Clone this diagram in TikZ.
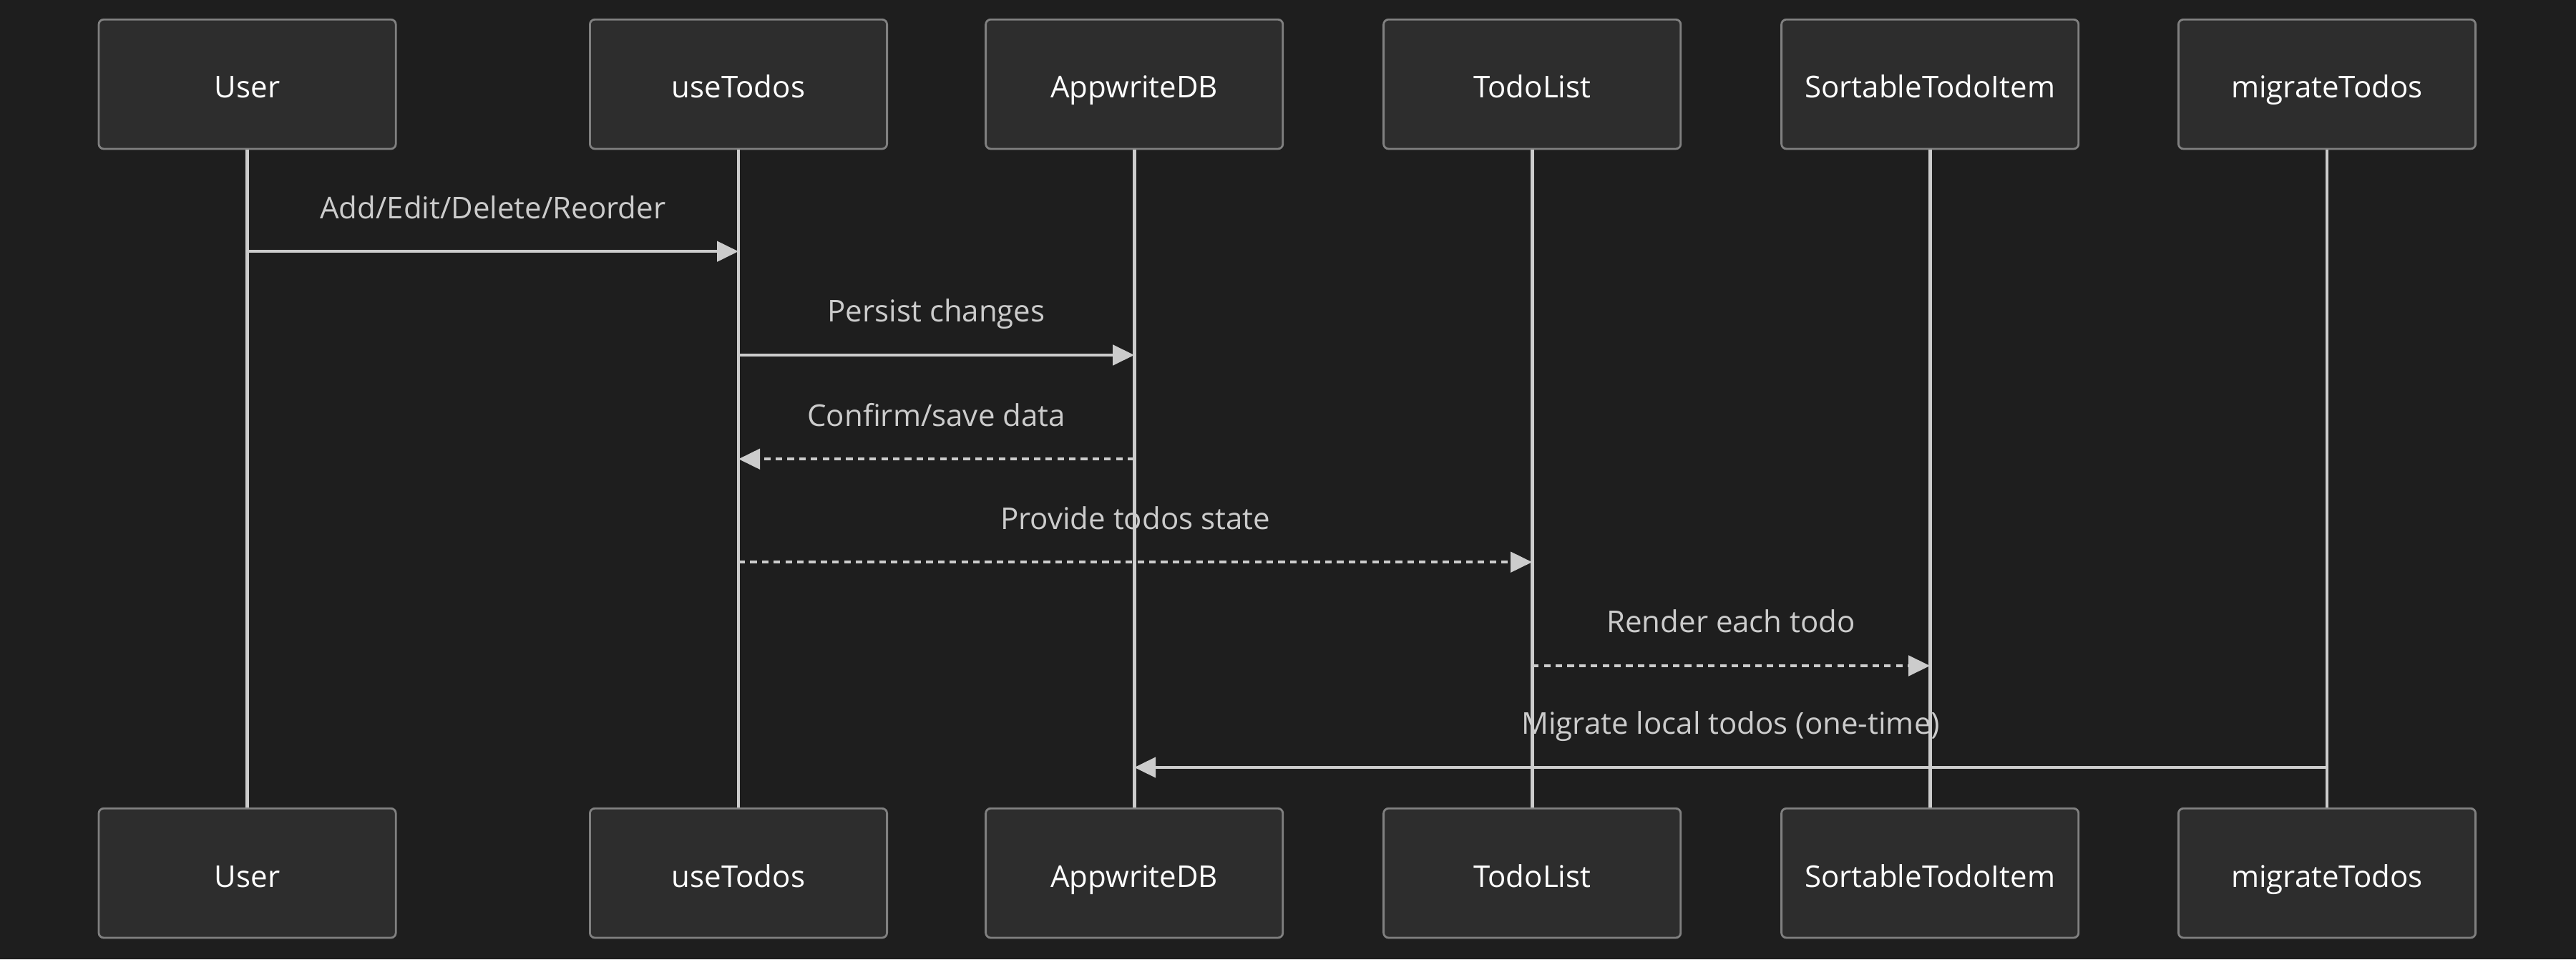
\documentclass[tikz,border=0pt]{standalone}
\usepackage{fontspec}
\setmainfont{Open Sans}
\usetikzlibrary{arrows.meta,positioning}
\definecolor{bgdark}{HTML}{1E1E1E}
\definecolor{actorfill}{HTML}{2D2D2D}
\definecolor{actorline}{HTML}{808080}
\definecolor{msgcolor}{HTML}{CCCCCC}

\begin{document}
\begin{tikzpicture}[x=1pt, y=1pt,
    actor/.style={draw=actorline, line width=0.7pt, fill=actorfill, rounded corners=1.75pt,
      minimum width=103.8pt, minimum height=45.2pt, text height=9.7pt, text depth=0pt,
      text=white, font=\fontsize{10.5pt}{12.6pt}\selectfont},
    lifeline/.style={draw=msgcolor, line width=1.2pt},
    msg/.style={draw=msgcolor, line width=1.15pt, -{Triangle[length=7.5pt, width=7pt]}},
    reply/.style={msg, dash pattern=on 2.3pt off 1.8pt},
    msglabel/.style={midway, anchor=base, yshift=11.5pt, text=msgcolor, font=\fontsize{10.5pt}{12.6pt}\selectfont}]
  \fill[bgdark] (0,0) rectangle (900,335);
  \useasboundingbox (0,0) rectangle (900,335);
  % participants, top and bottom, with one point per message row
  \foreach \name/\x in {User/86.4, useTodos/258, AppwriteDB/396.3, TodoList/535.3,
      SortableTodoItem/674.3, migrateTodos/813} {
    \node[actor] (\name-top) at (\x,305.6) {\name};
    \node[actor] (\name-bot) at (\x,30.1) {\name};
    \foreach \i/\y in {1/247.2, 2/211, 3/174.7, 4/138.7, 5/102.5, 6/67}
      \coordinate (\name-\i) at (\x,\y);
  }
  % messages
  \draw[msg] (User-1) -- node[msglabel] {Add/Edit/Delete/Reorder} (useTodos-1);
  \draw[msg] (useTodos-2) -- node[msglabel] {Persist changes} (AppwriteDB-2);
  \draw[reply] (AppwriteDB-3) -- node[msglabel] {Confirm/save data} (useTodos-3);
  \draw[reply] (useTodos-4) -- node[msglabel] {Provide todos state} (TodoList-4);
  \draw[reply] (TodoList-5) -- node[msglabel] {Render each todo} (SortableTodoItem-5);
  \draw[msg] (migrateTodos-6) -- node[msglabel] {Migrate local todos (one-time)} (AppwriteDB-6);
  % lifelines
  \foreach \name in {User, useTodos, AppwriteDB, TodoList, SortableTodoItem, migrateTodos}
    \draw[lifeline] (\name-top) -- (\name-bot);
\end{tikzpicture}
\end{document}
